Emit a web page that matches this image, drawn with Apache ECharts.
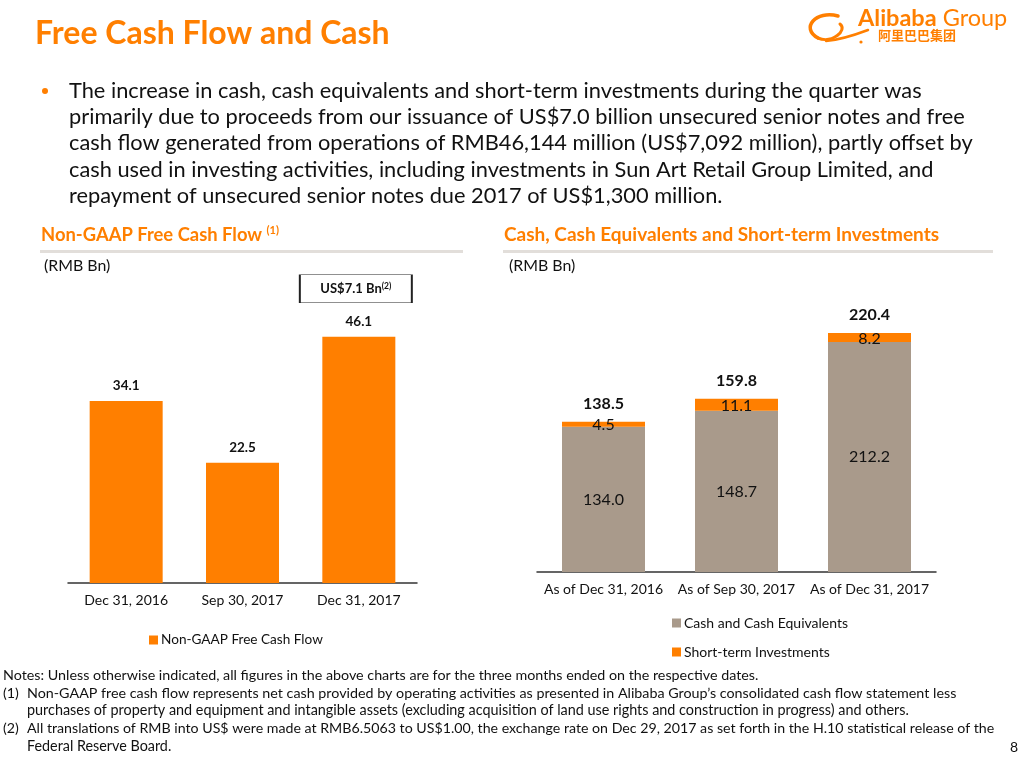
<!DOCTYPE html>
<html>
<head>
<meta charset="utf-8">
<script src="https://cdn.jsdelivr.net/npm/echarts@6/dist/echarts.min.js"></script>
<style>
html,body{margin:0;padding:0;background:#fff;}
#main{width:1024px;height:758px;}
</style>
</head>
<body>
<div id="main"></div>
<script>
// ---- DATA ----
const fcfCategories = ['Dec 31, 2016', 'Sep 30, 2017', 'Dec 31, 2017'];
const fcfValues = [34.1, 22.5, 46.1];
const cashCategories = ['As of Dec 31, 2016', 'As of Sep 30, 2017', 'As of Dec 31, 2017'];
const cashEquivalents = [134.0, 148.7, 212.2];
const shortTermInvestments = [4.5, 11.1, 8.2];
const cashTotals = [138.5, 159.8, 220.4];

const bulletLines = [
  'The increase in cash, cash equivalents and short-term investments during the quarter was',
  'primarily due to proceeds from our issuance of US$7.0 billion unsecured senior notes and free',
  'cash flow generated from operations of RMB46,144 million (US$7,092 million), partly offset by',
  'cash used in investing activities, including investments in Sun Art Retail Group Limited, and',
  'repayment of unsecured senior notes due 2017 of US$1,300 million.'
];
const noteLines = [
  ['', 'Notes: Unless otherwise indicated, all figures in the above charts are for the three months ended on the respective dates.'],
  ['(1)', 'Non-GAAP free cash flow represents net cash provided by operating activities as presented in Alibaba Group\u2019s consolidated cash flow statement less'],
  ['', 'purchases of property and equipment and intangible assets (excluding acquisition of land use rights and construction in progress) and others.'],
  ['(2)', 'All translations of RMB into US$ were made at RMB6.5063 to US$1.00, the exchange rate on Dec 29, 2017 as set forth in the H.10 statistical release of the'],
  ['', 'Federal Reserve Board.']
];

// ---- STYLE ----
const FONT = 'Lato, "Noto Sans", sans-serif';
const ORANGE = '#FF7F00';
const GRAY = '#A99A8B';
const TEXT = '#111111';
const noteSizes = [14.3, 14.3, 14.4, 14.2, 14.35];

const chart = echarts.init(document.getElementById('main'), null, {renderer: 'canvas'});

const graphics = [];
// Title
graphics.push({type: 'text', left: 35, top: 18, style: {text: 'Free Cash Flow and Cash', font: 'bold 32px ' + FONT, fill: ORANGE}});
// Logo
graphics.push({type: 'text', left: 858, top: 6, style: {
  text: '{a|Alibaba}{b| Group}',
  rich: {a: {font: 'bold 23.5px ' + FONT, fill: ORANGE}, b: {font: '23.5px ' + FONT, fill: ORANGE}}
}});
graphics.push({type: 'text', left: 878, top: 29, style: {text: '阿里巴巴集团', font: 'bold 13px "Noto Sans CJK SC"', fill: ORANGE}});
graphics.push({type: 'bezierCurve', shape: {x1: 838, y1: 16, cpx1: 816, cpy1: 10, cpx2: 800, cpy2: 28, x2: 818, y2: 38}, style: {stroke: ORANGE, lineWidth: 3.5, fill: null, lineCap: 'round'}});
graphics.push({type: 'bezierCurve', shape: {x1: 818, y1: 38, cpx1: 832, cpy1: 44, cpx2: 848, cpy2: 30, x2: 840, y2: 24}, style: {stroke: ORANGE, lineWidth: 3, fill: null, lineCap: 'round'}});
graphics.push({type: 'bezierCurve', shape: {x1: 826, y1: 41, cpx1: 840, cpy1: 40, cpx2: 852, cpy2: 36, x2: 868, y2: 30}, style: {stroke: ORANGE, lineWidth: 2.5, fill: null, lineCap: 'round'}});
graphics.push({type: 'circle', shape: {cx: 861, cy: 42, r: 1.6}, style: {fill: ORANGE}});
// Bullet
graphics.push({type: 'circle', shape: {cx: 45, cy: 91, r: 3}, style: {fill: ORANGE}});
bulletLines.forEach(function (t, i) {
  graphics.push({type: 'text', left: 69, top: 80 + i * 26.2, style: {text: t, font: '21.8px ' + FONT, fill: TEXT}});
});
// Section headers
graphics.push({type: 'text', left: 41, top: 225, style: {
  text: '{a|Non-GAAP Free Cash Flow }{s|(1)}',
  rich: {a: {font: 'bold 18.4px ' + FONT, fill: ORANGE}, s: {font: 'bold 11px ' + FONT, fill: ORANGE, verticalAlign: 'top', padding: [0, 0, 9, 0]}}
}});
graphics.push({type: 'rect', shape: {x: 40, y: 250, width: 423, height: 3}, style: {fill: '#E2DEDA'}});
graphics.push({type: 'text', left: 504, top: 225, style: {text: 'Cash, Cash Equivalents and Short-term Investments', font: 'bold 19px ' + FONT, fill: ORANGE}});
graphics.push({type: 'rect', shape: {x: 503, y: 250, width: 490, height: 3}, style: {fill: '#E2DEDA'}});
graphics.push({type: 'text', left: 44, top: 258, style: {text: '(RMB Bn)', font: '15.9px ' + FONT, fill: TEXT}});
graphics.push({type: 'text', left: 509, top: 258, style: {text: '(RMB Bn)', font: '15.9px ' + FONT, fill: TEXT}});
// Notes
noteLines.forEach(function (l, i) {
  const y = 668 + i * 17.9;
  const f = noteSizes[i] + 'px ' + FONT;
  if (l[0]) graphics.push({type: 'text', left: 3, top: y, style: {text: l[0], font: f, fill: TEXT}});
  graphics.push({type: 'text', left: i === 0 ? 3 : 27, top: y, style: {text: l[1], font: f, fill: TEXT}});
});
graphics.push({type: 'text', left: 1010, top: 740, style: {text: '8', font: '14px ' + FONT, fill: TEXT}});

const option = {
  animation: false,
  textStyle: {fontFamily: FONT},
  graphic: graphics,
  grid: [
    {left: 68, width: 349, top: 316, height: 267},
    {left: 537, width: 399, top: 301, height: 271}
  ],
  xAxis: [
    {type: 'category', gridIndex: 0, data: fcfCategories,
     axisLine: {lineStyle: {color: '#333', width: 1.5}}, axisTick: {show: false},
     axisLabel: {interval: 0, color: TEXT, fontSize: 14, fontFamily: FONT, margin: 10}},
    {type: 'category', gridIndex: 1, data: cashCategories,
     axisLine: {lineStyle: {color: '#333', width: 1.5}}, axisTick: {show: false},
     axisLabel: {interval: 0, hideOverlap: false, color: TEXT, fontSize: 14, fontFamily: FONT, margin: 10}}
  ],
  yAxis: [
    {type: 'value', gridIndex: 0, min: 0, max: 50, show: false, splitLine: {show: false}},
    {type: 'value', gridIndex: 1, min: 0, max: 250, show: false, splitLine: {show: false}}
  ],
  legend: [
    {data: ['Non-GAAP Free Cash Flow'], left: 149, top: 633, padding: 0, icon: 'rect', itemWidth: 9, itemHeight: 9, itemGap: 10,
     textStyle: {color: TEXT, fontSize: 13.6, fontFamily: FONT, padding: [0, 0, 0, -2]}},
    {data: ['Cash and Cash Equivalents', 'Short-term Investments'], orient: 'vertical', left: 672, top: 615, padding: 0,
     icon: 'rect', itemWidth: 9, itemHeight: 9, itemGap: 13,
     textStyle: {color: TEXT, fontSize: 14, fontFamily: FONT, lineHeight: 16, padding: [0, 0, 0, -2]}}
  ],
  series: [
    {name: 'Non-GAAP Free Cash Flow', type: 'bar', xAxisIndex: 0, yAxisIndex: 0, data: fcfValues,
     barWidth: 73, itemStyle: {color: ORANGE},
     label: {show: true, position: 'top', distance: 8, color: TEXT, fontWeight: 'bold', fontSize: 13.5, fontFamily: FONT,
             formatter: function (p) { return p.value.toFixed(1); }},
     markPoint: {
       symbol: 'rect', symbolSize: [112, 28], symbolOffset: [-3, -48], silent: true,
       itemStyle: {color: '#fff', borderColor: '#222', borderWidth: 1},
       label: {show: true, position: 'inside',
         formatter: '{a|US$7.1 Bn}{s|(2)}',
         rich: {a: {fontWeight: 'bold', fontSize: 13, color: TEXT, fontFamily: FONT},
                s: {fontWeight: 'bold', fontSize: 8.5, color: TEXT, fontFamily: FONT, verticalAlign: 'top', padding: [0, 0, 6, 0]}}},
       data: [{coord: [2, fcfValues[2]]}]
     }},
    {name: 'Cash and Cash Equivalents', type: 'bar', xAxisIndex: 1, yAxisIndex: 1, stack: 'cash', data: cashEquivalents,
     barWidth: 83, itemStyle: {color: GRAY},
     label: {show: true, position: 'inside', color: TEXT, fontSize: 16, fontFamily: FONT,
             formatter: function (p) { return p.value.toFixed(1); }}},
    {name: 'Short-term Investments', type: 'bar', xAxisIndex: 1, yAxisIndex: 1, stack: 'cash', data: shortTermInvestments,
     barWidth: 83, itemStyle: {color: ORANGE},
     label: {show: true, position: 'inside', offset: [0, 1], color: TEXT, fontSize: 16, fontFamily: FONT,
             formatter: function (p) { return p.value.toFixed(1); }}},
    {name: 'Total', type: 'bar', xAxisIndex: 1, yAxisIndex: 1, data: cashTotals, barWidth: 83, barGap: '-100%', z: 0,
     itemStyle: {color: 'rgba(0,0,0,0)'}, silent: true,
     label: {show: true, position: 'top', distance: 10, color: TEXT, fontSize: 16, fontWeight: 'bold', fontFamily: FONT,
             formatter: function (p) { return p.value.toFixed(1); }}}
  ]
};
chart.setOption(option);
</script>
</body>
</html>
